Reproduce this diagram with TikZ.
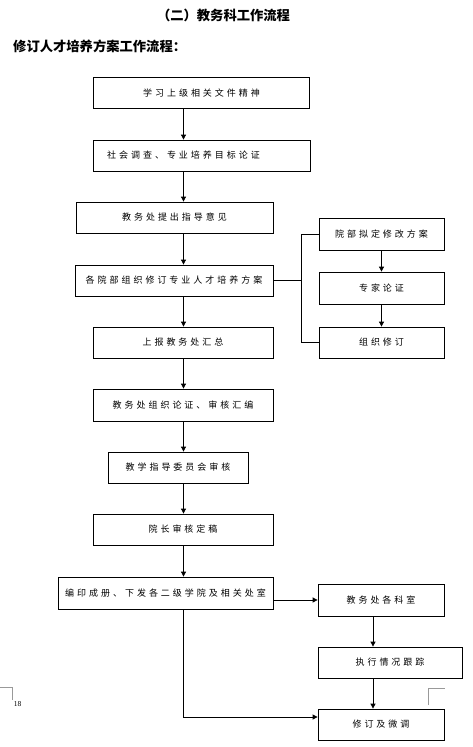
\documentclass[tikz,border=0pt]{standalone}
\usepackage{fontspec}
\setmainfont{Liberation Serif}
\newfontfamily\cjk[LetterSpace=33]{Noto Sans CJK SC}
\newfontfamily\cjkt{Noto Sans CJK SC}
\usetikzlibrary{arrows.meta}
\tikzset{
  boxtext/.style={inner sep=0pt, font=\cjk\fontsize{9}{9}\selectfont},
  box/.style={draw, line width=0.8pt, minimum height=31pt, inner sep=0pt, font=\cjk\fontsize{9}{9}\selectfont},
  arr/.style={-{Triangle[length=5pt,width=5pt]}, line width=0.8pt},
  ln/.style={line width=0.8pt},
  pagemark/.style={line width=0.8pt, draw=black!40},
  titlefont/.style={inner sep=0pt, font=\cjkt\bfseries\fontsize{13.3}{13.3}\selectfont}
}
\begin{document}
\begin{tikzpicture}[x=1pt,y=-1pt]
\useasboundingbox (0,0) rectangle (472,747);
% titles
\node[titlefont] (t1) at (223.5,15) {（二）教务科工作流程};
\node[titlefont, anchor=west] (t2) at (13,46) {修订人才培养方案工作流程：};
% main column
\node[box, minimum width=216pt] (b1) at (201.5,93) {学习上级相关文件精神};
\node[box, minimum width=217pt] (b2) at (201.5,155.5) {};
\node[boxtext] (b2t) at (183.5,155.5) {社会调查、专业培养目标论证};
\node[box, minimum width=197pt] (b3) at (174.5,217.5) {教务处提出指导意见};
\node[box, minimum width=198pt] (b4) at (174,280.5) {各院部组织修订专业人才培养方案};
\node[box, minimum width=180pt] (b5) at (183,342.5) {上报教务处汇总};
\node[box, minimum width=180pt, minimum height=32pt] (b6) at (183,405) {教务处组织论证、审核汇编};
\node[box, minimum width=140pt] (b7) at (178,467.5) {教学指导委员会审核};
\node[box, minimum width=180pt] (b8) at (183,529.5) {院长审核定稿};
\node[box, minimum width=215pt, minimum height=32pt] (b9) at (165.5,593) {编印成册、下发各二级学院及相关处室};
% right upper column
\node[box, minimum width=125pt, minimum height=32pt] (r1) at (381.5,234) {院部拟定修改方案};
\node[box, minimum width=125pt, minimum height=32pt] (r2) at (381.5,288) {专家论证};
\node[box, minimum width=125pt] (r3) at (381.5,342.5) {组织修订};
% right lower column
\node[box, minimum width=126pt, minimum height=32pt] (c1) at (381,600) {教务处各科室};
\node[box, minimum width=144pt] (c2) at (390,662.5) {执行情况跟踪};
\node[box, minimum width=126pt] (c3) at (381,724.5) {修订及微调};
% helper coordinates
\coordinate (axis) at (183.5,0);
\coordinate (axisb) at (373,0);
\coordinate (br) at (301,0);
\coordinate (turn) at (183.5,717);
% main arrows
\draw[arr] (b1.south -| axis) -- (b2.north -| axis);
\draw[arr] (b2.south -| axis) -- (b3.north -| axis);
\draw[arr] (b3.south -| axis) -- (b4.north -| axis);
\draw[arr] (b4.south -| axis) -- (b5.north -| axis);
\draw[arr] (b5.south -| axis) -- (b6.north -| axis);
\draw[arr] (b6.south -| axis) -- (b7.north -| axis);
\draw[arr] (b7.south -| axis) -- (b8.north -| axis);
\draw[arr] (b8.south -| axis) -- (b9.north -| axis);
% bracket
\draw[ln] (b4.east) -- (b4.east -| br);
\draw[ln] (r1.west) -- (r1.west -| br) -- (r3.west -| br) -- (r3.west);
\draw[arr] (r1.south) -- (r2.north);
\draw[arr] (r2.south) -- (r3.north);
% lower part
\draw[arr] (b9.east |- c1.west) -- (c1.west);
\draw[arr] (c1.south -| axisb) -- (c2.north -| axisb);
\draw[arr] (c2.south -| axisb) -- (c3.north -| axisb);
\draw[arr] (b9.south -| turn) -- (turn) -- (turn -| c3.west);
% page marks
\draw[pagemark] (0,687) -- (12.7,687) -- (12.7,700);
\draw[pagemark] (428,705) -- (428,688) -- (445,688);
\node[inner sep=0pt, font=\fontsize{7.5}{7.5}\selectfont] (pg) at (17.5,704.5) {18};
\end{tikzpicture}
\end{document}
